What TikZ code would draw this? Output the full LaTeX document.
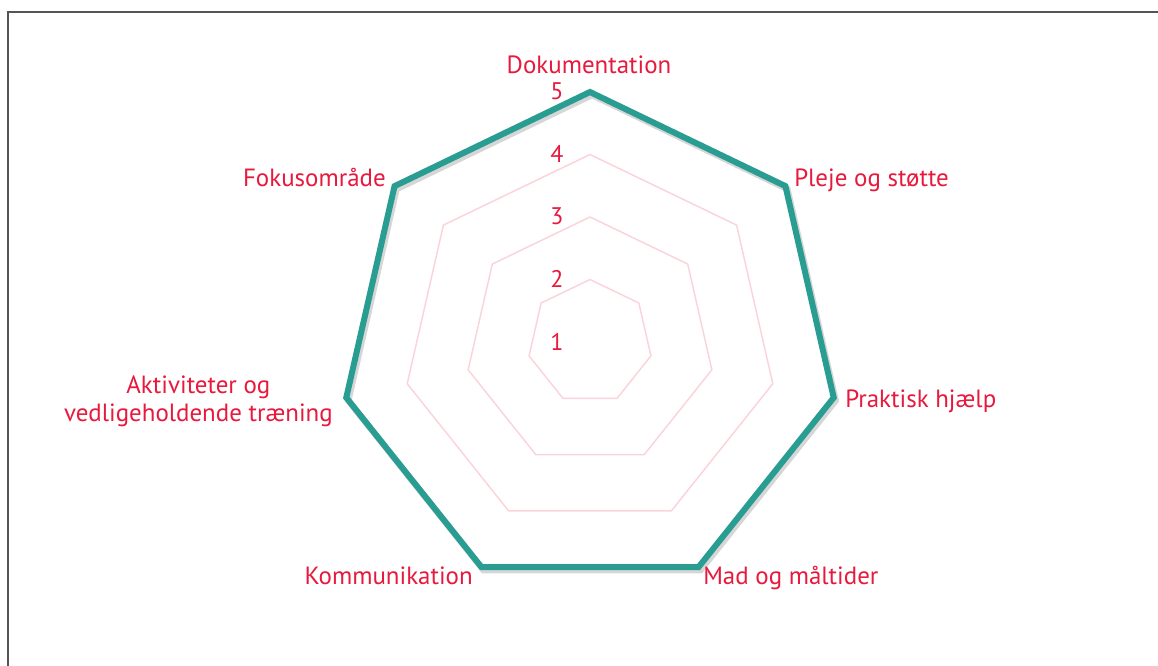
\documentclass[tikz,border=0pt]{standalone}
\usepackage{fontspec}
\setmainfont{PT Sans}
\definecolor{lblred}{HTML}{E8193C}
\definecolor{datateal}{HTML}{2A9D93}
\definecolor{gridpink}{HTML}{FAD4DA}
\definecolor{framegray}{HTML}{555555}
\begin{document}
\begin{tikzpicture}[x=0.75pt,y=-0.75pt,
  lab/.style={text=lblred, font=\fontsize{18.7}{21}\selectfont, inner sep=0pt},
  lvl/.style={text=lblred, font=\fontsize{18}{20}\selectfont, inner sep=0pt},
  gridline/.style={draw=gridpink, line width=1.1pt, line join=miter},
  dataline/.style={draw=datateal, line width=4.5pt, line join=miter},
  shadowline/.style={draw=black, opacity=0.16, line width=4.8pt, line join=miter}]
\useasboundingbox (0,0) rectangle (1158,666);
\fill[white] (0,0) rectangle (1158,666);
% frame (top and left edges)
\draw[framegray, line width=1.6pt] (8,666) -- (8,12) -- (1158,12);
\begin{scope}[shift={(590,342)}]
  \foreach \r in {62.5,125,187.5,250}
    \draw[gridline] (-90:\r) \foreach \k in {1,...,6}{ -- ({-90+\k*360/7}:\r)} -- cycle;
  \foreach \k in {0,...,6}
    \coordinate (v\k) at ({-90+\k*360/7}:250);
  \begin{scope}[shift={(2,3)}]
    \foreach \k in {0,...,6}
      \coordinate (s\k) at ({-90+\k*360/7}:250);
  \end{scope}
\end{scope}
\draw[shadowline] (s0) -- (s1) -- (s2) -- (s3) -- (s4) -- (s5) -- (s6) -- cycle;
\draw[dataline] (v0) -- (v1) -- (v2) -- (v3) -- (v4) -- (v5) -- (v6) -- cycle;
% level labels
\node[lvl] (n5) at (557,91) {5};
\node[lvl] (n4) at (557,154) {4};
\node[lvl] (n3) at (557,216) {3};
\node[lvl] (n2) at (557,279) {2};
\node[lvl] (n1) at (557,342) {1};
% axis labels
\node[lab, anchor=base] (l0) at (589,74) {Dokumentation};
\node[lab, anchor=base west] (l1) at (794,187) {Pleje og støtte};
\node[lab, anchor=base west] (l2) at (845,408) {Praktisk hjælp};
\node[lab, anchor=base west] (l3) at (703,585) {Mad og måltider};
\node[lab, anchor=base east] (l4) at (473,585) {Kommunikation};
\node[lab, anchor=east, align=center] (l5) at (333,401) {Aktiviteter og\\vedligeholdende træning};
\node[lab, anchor=base east] (l6) at (386,187) {Fokusområde};
\end{tikzpicture}
\end{document}
